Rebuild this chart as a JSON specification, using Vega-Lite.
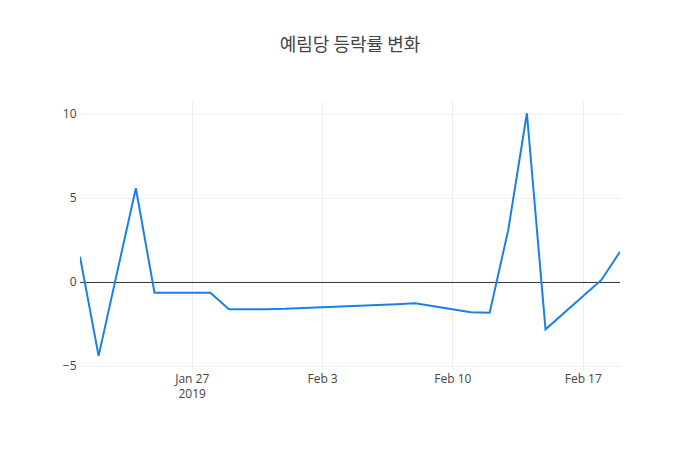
{
  "$schema": "https://vega.github.io/schema/vega-lite/v6.json",
  "autosize": "none",
  "width": 540,
  "height": 270,
  "padding": {"left": 80, "top": 100, "right": 80, "bottom": 80},
  "background": "white",
  "title": {
    "text": "예림당 등락률 변화",
    "font": "Noto Sans CJK KR",
    "fontSize": 18,
    "fontWeight": "normal",
    "color": "#444444",
    "anchor": "middle",
    "offset": 45
  },
  "config": {
    "view": {"stroke": null},
    "axis": {
      "labelFont": "Open Sans",
      "labelFontSize": 12,
      "labelColor": "#444444",
      "gridColor": "#eeeeee",
      "gridWidth": 1,
      "domain": false,
      "ticks": false,
      "title": null
    }
  },
  "data": {
    "values": [
      {"date": "2019-01-21", "rate": 1.5},
      {"date": "2019-01-22", "rate": -4.4},
      {"date": "2019-01-23", "rate": 0.6},
      {"date": "2019-01-24", "rate": 5.58},
      {"date": "2019-01-25", "rate": -0.64},
      {"date": "2019-01-28", "rate": -0.64},
      {"date": "2019-01-29", "rate": -1.63},
      {"date": "2019-01-30", "rate": -1.63},
      {"date": "2019-01-31", "rate": -1.62},
      {"date": "2019-02-01", "rate": -1.6},
      {"date": "2019-02-07", "rate": -1.32},
      {"date": "2019-02-08", "rate": -1.27},
      {"date": "2019-02-11", "rate": -1.8},
      {"date": "2019-02-12", "rate": -1.83},
      {"date": "2019-02-13", "rate": 3.1},
      {"date": "2019-02-14", "rate": 10.04},
      {"date": "2019-02-15", "rate": -2.82},
      {"date": "2019-02-18", "rate": 0.12},
      {"date": "2019-02-19", "rate": 1.8}
    ]
  },
  "layer": [
    {
      "data": {"values": [{"y": 0}]},
      "mark": {"type": "rule", "color": "#333333", "strokeWidth": 1, "yOffset": 0.5},
      "encoding": {
        "y": {"field": "y", "type": "quantitative"}
      }
    },
    {
      "mark": {"type": "line", "color": "#1a80e8", "strokeWidth": 2, "clip": true},
      "encoding": {
        "x": {
          "field": "date",
          "type": "temporal",
          "scale": {
            "type": "utc",
            "domain": [
              {"year": 2019, "month": 1, "date": 21, "utc": true},
              {"year": 2019, "month": 2, "date": 19, "utc": true}
            ]
          },
          "axis": {
            "values": [
              {"year": 2019, "month": 1, "date": 27, "utc": true},
              {"year": 2019, "month": 2, "date": 3, "utc": true},
              {"year": 2019, "month": 2, "date": 10, "utc": true},
              {"year": 2019, "month": 2, "date": 17, "utc": true}
            ],
            "labelExpr": "utcFormat(datum.value, '%m-%d') == '01-27' ? ['Jan 27', '2019'] : utcFormat(datum.value, '%b %-d')",
            "labelPadding": 3,
            "labelLineHeight": 15,
            "labelFlush": false,
            "labelOverlap": false
          }
        },
        "y": {
          "field": "rate",
          "type": "quantitative",
          "scale": {"domain": [-5.24, 10.83], "nice": false, "zero": false},
          "axis": {
            "values": [-5, 0, 5, 10],
            "labelExpr": "datum.value < 0 ? '\u2212' + abs(datum.value) : '' + datum.value",
            "labelPadding": 4
          }
        }
      }
    }
  ]
}
